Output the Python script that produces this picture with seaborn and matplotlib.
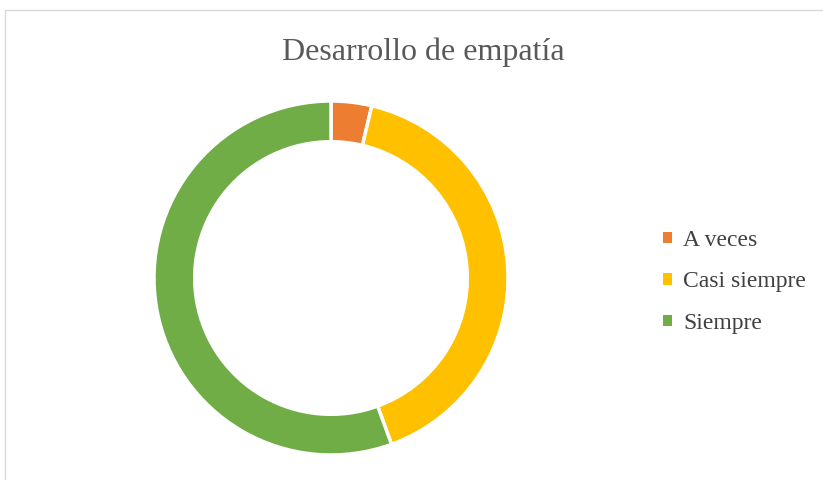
import matplotlib.pyplot as plt
import matplotlib.patches as mpatches
import seaborn as sns

# datos
categorias = ['A veces', 'Casi siempre', 'Siempre']
valores = [1, 11, 15]
colores = ['#ED7D31', '#FFC000', '#70AD47']

sns.set_theme(style='white')
plt.rcParams['font.family'] = ['Liberation Serif', 'DejaVu Serif']

fig = plt.figure(figsize=(8.23, 4.8), dpi=100)

# marco gris del grafico
fig.patches.append(mpatches.Rectangle((5 / 823, -0.1), 1.2, (480 - 10) / 480 + 0.1,
                                      transform=fig.transFigure, fill=False,
                                      edgecolor='#D9D9D9', linewidth=1))

ax = fig.add_axes([(331 - 177) / 823, (480 - 278 - 177) / 480, 354 / 823, 354 / 480])
wedges, _ = ax.pie(valores, colors=colores, startangle=90, counterclock=False,
                   radius=1, wedgeprops=dict(width=0.23, edgecolor='white', linewidth=2.5))
ax.set_xlim(-1, 1)
ax.set_ylim(-1, 1)
ax.set_aspect('equal')
ax.axis('off')

fig.text(423 / 823, 1 - 52 / 480, 'Desarrollo de empatía', ha='center', va='center',
         fontsize=23, color='#595959')

leg = fig.legend(wedges, categorias, loc='center left', bbox_to_anchor=(642 / 823, 1 - 282 / 480),
                 frameon=False, fontsize=17, handlelength=0.35, handleheight=0.35,
                 handletextpad=0.5, labelspacing=0.86, labelcolor='#404040')
for h in leg.legend_handles:
    h.set_edgecolor('none')

plt.savefig('out.png', dpi=100)
